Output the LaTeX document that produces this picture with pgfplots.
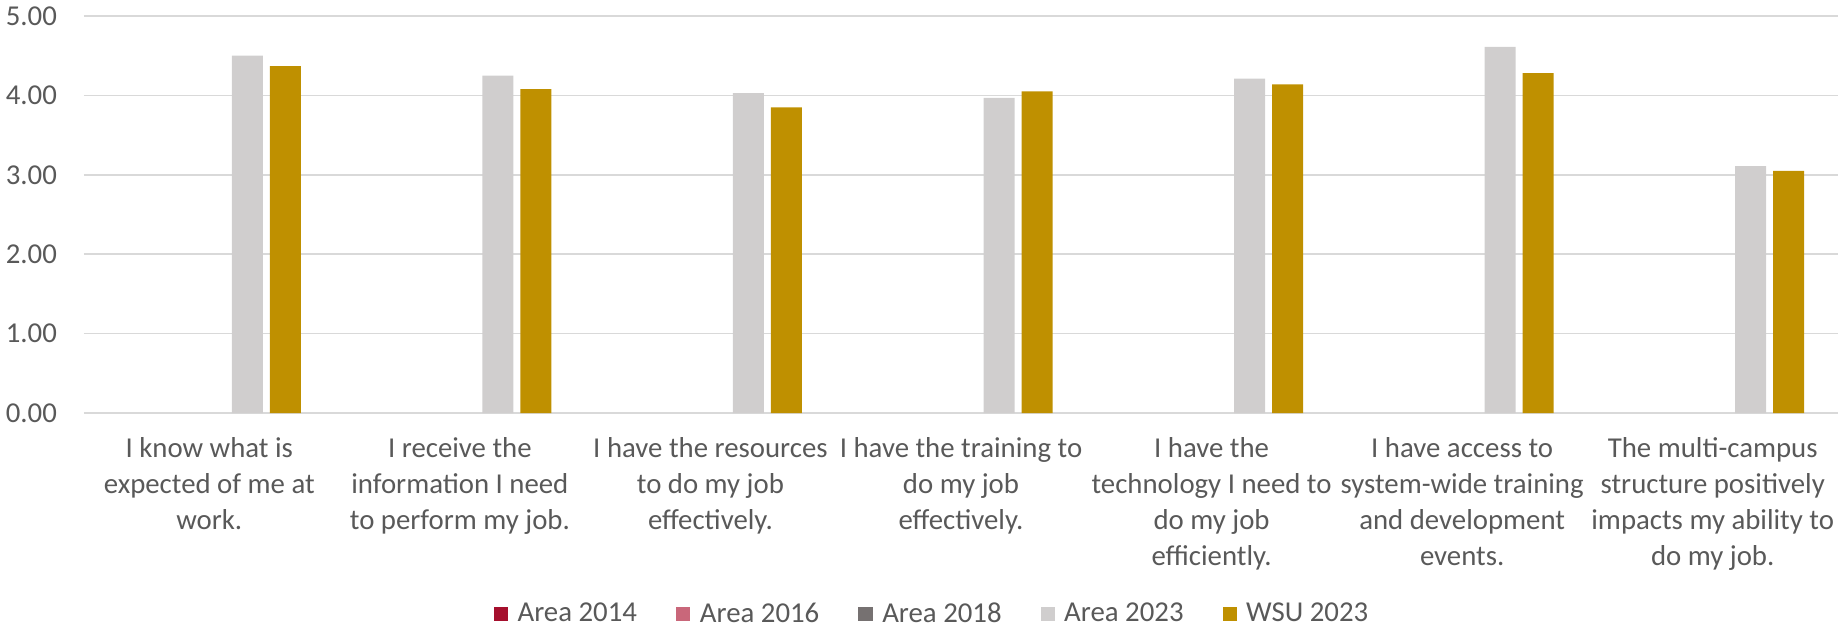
\documentclass[border=0pt]{standalone}
\usepackage{pgfplots}
\pgfplotsset{compat=1.18}
\usepackage{fontspec}
\setmainfont{Carlito}
\definecolor{c14}{HTML}{A50F2D}
\definecolor{c16}{HTML}{C9677A}
\definecolor{c18}{HTML}{767171}
\definecolor{c23}{HTML}{D0CECE}
\definecolor{wsu}{HTML}{BF9000}
\definecolor{txt}{HTML}{595959}
\definecolor{gridc}{HTML}{D9D9D9}
\pgfplotsset{sqlegend/.style={legend image code/.code={\fill[##1,draw=none] (0pt,-3.6pt) rectangle (7.2pt,3.6pt); \path (9.8pt,0pt);}}}
\begin{document}
\begin{tikzpicture}
\begin{axis}[
  scale only axis, width=877pt, height=198.5pt,
  xmin=-0.5, xmax=6.5, ymin=0, ymax=5,
  ytick={0,1,2,3,4,5}, xtick={0,1,2,3,4,5,6},
  xticklabels={
    {I know what is\\expected of me at\\work.},
    {I receive the\\information I need\\to perform my job.},
    {I have the resources\\to do my job\\effectively.},
    {I have the training to\\do my job\\effectively.},
    {I have the\\technology I need to\\do my job\\efficiently.},
    {I have access to\\system-wide training\\and development\\events.},
    {The multi-campus\\structure positively\\impacts my ability to\\do my job.}},
  major tick length=0pt,
  axis x line*=bottom,
  axis y line*=left,
  y axis line style={draw=none},
  x axis line style={draw=gridc, line width=0.8pt, -},
  ymajorgrids, grid style={draw=gridc, line width=0.8pt},
  tick label style={font=\fontsize{14.4}{18}\selectfont, text=txt},
  xticklabel style={align=center, yshift=-8.5pt},
  yticklabel style={xshift=-10pt, /pgf/number format/.cd, fixed, fixed zerofill, precision=2, assume math mode=true},
  legend style={at={(0.484,-0.506)}, anchor=center, draw=none, font=\fontsize{14.4}{18}\selectfont, text=txt, legend columns=-1,
    /tikz/every even column/.append style={column sep=17.5pt}},
  clip=false,
]
\addlegendimage{sqlegend, fill=c14}
\addlegendimage{sqlegend, fill=c16}
\addlegendimage{sqlegend, fill=c18}
\addplot[ybar, bar width=15.5pt, bar shift=19pt, fill=c23, draw=none, sqlegend] coordinates {
  (0,4.50) (1,4.25) (2,4.03) (3,3.97) (4,4.21) (5,4.61) (6,3.11)};
\addplot[ybar, bar width=15.5pt, bar shift=38pt, fill=wsu, draw=none, sqlegend] coordinates {
  (0,4.37) (1,4.08) (2,3.85) (3,4.05) (4,4.14) (5,4.28) (6,3.05)};
\legend{Area 2014, Area 2016, Area 2018, Area 2023, WSU 2023}
\end{axis}
\pgfresetboundingbox
\path[use as bounding box] (-42pt,-109pt) rectangle (878.5pt,206.5pt);
\end{tikzpicture}
\end{document}
